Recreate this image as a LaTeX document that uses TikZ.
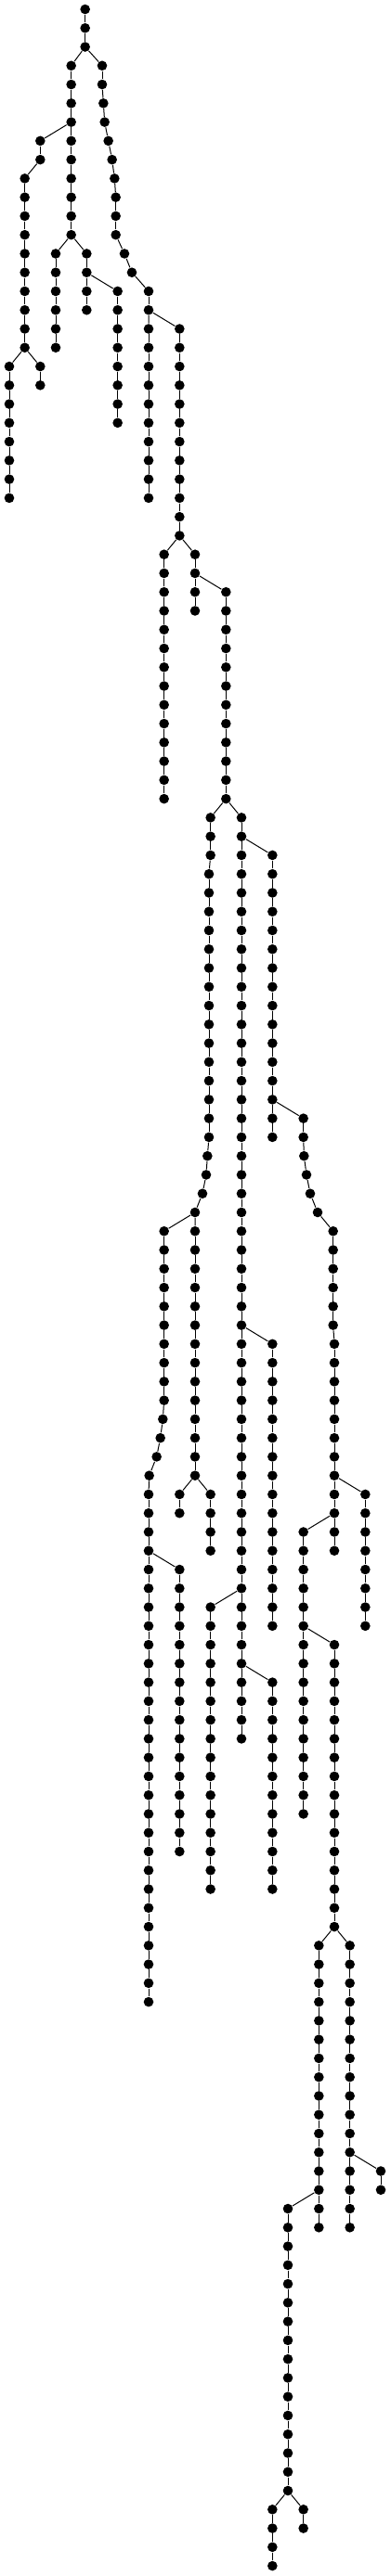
\documentclass[tikz,border=0pt]{standalone}
\tikzset{dot/.style={circle,fill=black,inner sep=0pt,minimum size=10.6pt}}
\newcommand{\vchain}[4]{%
  \foreach \r in {#3,...,#4}{\node[dot] (#1\r) at (#2,\r) {};}%
  \foreach \r in {#3,...,#4}{\ifnum\r>#3\relax\pgfmathtruncatemacro{\q}{\r-1}\draw (#1\q) -- (#1\r);\fi}}
\newcommand{\joinchain}[3]{%
  \foreach \r in {#2,...,#3}{\pgfmathtruncatemacro{\q}{\r-1}\draw (#1\q) -- (#1\r);}}
\begin{document}
\begin{tikzpicture}[x=16.667pt,y=-20.265pt,line width=1pt]
\useasboundingbox (-0.6,-0.4935) rectangle (24.6,136.54);
\vchain{a}{4.9}{0}{2}
\vchain{b}{4}{3}{12}
\draw (a2) -- (b3);
\foreach \k/\r in {6/3,6/4,6.08/5,6.16/6,6.4/7,6.64/8,6.8/9,6.88/10,6.88/11,6.88/12,7.44/13,7.92/14,9/15,9/16}
  \node[dot] (c\r) at (\k,\r) {};
\joinchain{c}{4}{16}
\draw (a2) -- (c3);
\foreach \k/\r in {2/7,2/8,1/9,1/10,1/11,1/12,1/13,1/14,1/15,1/16,1/17,1/18}
  \node[dot] (d\r) at (\k,\r) {};
\joinchain{d}{8}{18}
\draw (b6) -- (d7);
\vchain{f}{0}{19}{26}
\vchain{g}{2}{19}{20}
\draw (d18) -- (f19) (d18) -- (g19);
\vchain{h}{3}{13}{18}
\vchain{i}{5}{13}{16}
\draw (b12) -- (h13) (b12) -- (i13);
\vchain{j}{7}{15}{22}
\draw (i14) -- (j15);
\vchain{k}{9}{17}{26}
\vchain{l}{11}{17}{28}
\draw (c16) -- (k17) (c16) -- (l17);
\vchain{m}{10}{29}{42}
\vchain{n}{12}{29}{32}
\draw (l28) -- (m29) (l28) -- (n29);
\vchain{o}{14}{31}{42}
\draw (n30) -- (o31);
\foreach \r in {43,44,45} \node[dot] (p\r) at (13,\r) {};
\foreach \r in {46,...,60} \node[dot] (p\r) at (12.9,\r) {};
\foreach \k/\r in {12.8/61,12.72/62,12.48/63,12/64} \node[dot] (p\r) at (\k,\r) {};
\joinchain{p}{44}{64}
\vchain{q}{15}{43}{92}
\draw (o42) -- (p43) (o42) -- (q43);
\vchain{r}{17}{45}{60}
\draw (q44) -- (r45);
\foreach \k/\r in {19/59,19/60,19.04/61,19.2/62,19.44/63,19.92/64} \node[dot] (s\r) at (\k,\r) {};
\foreach \r in {65,...,70} \node[dot] (s\r) at (20.92,\r) {};
\foreach \r in {71,...,82} \node[dot] (s\r) at (21,\r) {};
\joinchain{s}{60}{82}
\draw (r58) -- (s59);
\vchain{sa}{23}{79}{86}
\draw (s78) -- (sa79);
\vchain{t}{19}{81}{96}
\draw (s80) -- (t81);
\vchain{u}{21}{87}{102}
\draw (t86) -- (u87);
\vchain{v}{20}{103}{118}
\vchain{w}{22}{103}{118}
\draw (u102) -- (v103) (u102) -- (w103);
\vchain{x}{24}{115}{116}
\draw (w114) -- (x115);
\vchain{y}{18}{117}{132}
\draw (v116) -- (y117);
\vchain{za}{17}{133}{136}
\vchain{zb}{19}{133}{134}
\draw (y132) -- (za133) (y132) -- (zb133);
\foreach \r in {65,...,74} \node[dot] (pa\r) at (10,\r) {};
\foreach \k/\r in {9.92/75,9.76/76,9.52/77,9.04/78} \node[dot] (pa\r) at (\k,\r) {};
\foreach \r in {79,...,106} \node[dot] (pa\r) at (9,\r) {};
\joinchain{pa}{66}{106}
\vchain{pb}{12}{65}{78}
\draw (p64) -- (pa65) (p64) -- (pb65);
\vchain{pc}{11}{79}{80}
\vchain{pd}{13}{79}{82}
\draw (pb78) -- (pc79) (pb78) -- (pd79);
\vchain{pe}{11}{83}{98}
\draw (pa82) -- (pe83);
\vchain{qa}{17}{71}{86}
\draw (q70) -- (qa71);
\vchain{qb}{13}{85}{100}
\draw (q84) -- (qb85);
\vchain{qc}{17}{89}{100}
\draw (q88) -- (qc89);
\end{tikzpicture}
\end{document}
